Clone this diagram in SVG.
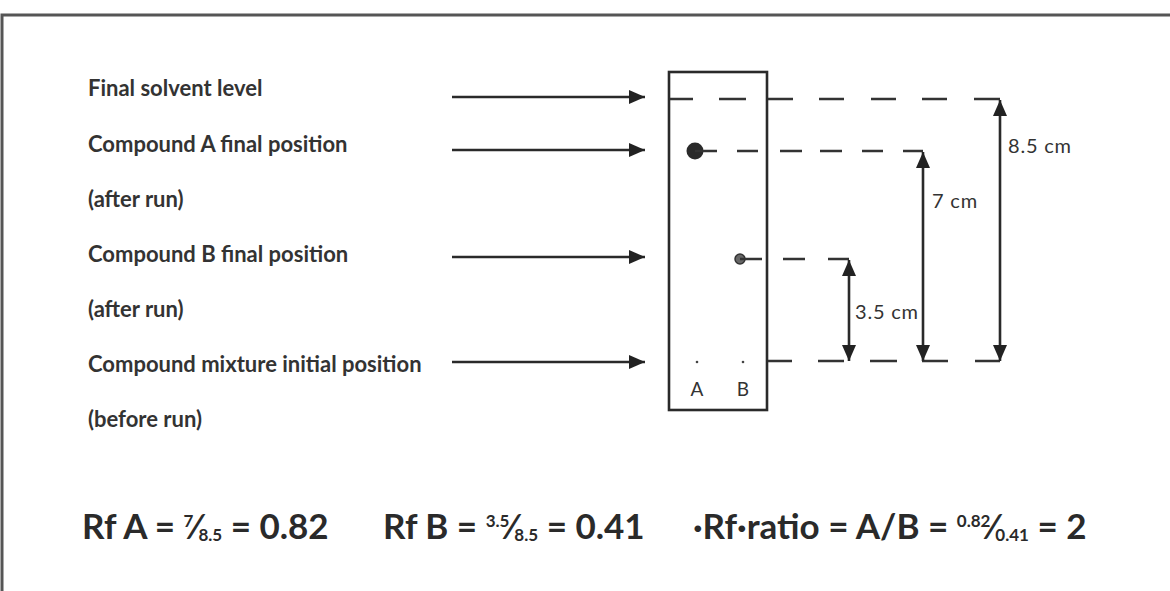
<svg xmlns="http://www.w3.org/2000/svg" width="1170" height="591" viewBox="0 0 1170 591">
  <style>
    .label { font-family: Lato, "Liberation Sans", sans-serif; font-weight: 700; font-size: 22px; fill: #333; letter-spacing: 0px; }
    .dim { font-family: Lato, "Liberation Sans", sans-serif; font-weight: 400; font-size: 20px; fill: #333; letter-spacing: 0.8px; }
    .lane { font-family: Lato, "Liberation Sans", sans-serif; font-weight: 400; font-size: 19px; fill: #333; text-anchor: middle; }
    .formula { font-family: Lato, "Liberation Sans", sans-serif; font-weight: 700; font-size: 35px; fill: #2a2a2a; }
    .frac { font-size: 17px; }
    .line { stroke: #2a2a2a; stroke-width: 2.6; fill: none; }
    .dash { stroke: #333; stroke-width: 2.6; fill: none; }
  </style>
  <defs>
    <marker id="head" viewBox="0 0 16 14" refX="16" refY="7" markerWidth="16" markerHeight="14" markerUnits="userSpaceOnUse" orient="auto-start-reverse">
      <path d="M0,0 L16,7 L0,14 Z" fill="#222"/>
    </marker>
  </defs>

  <rect width="1170" height="591" fill="#fff"/>
  <!-- outer frame -->
  <path d="M2,591 V15 H1170" fill="none" stroke="#555" stroke-width="3"/>

  <!-- left-hand labels -->
  <g id="label-solvent"><text class="label" x="88" y="96">Final solvent level</text></g>
  <g id="label-compound-a">
    <text class="label" x="88" y="152">Compound A final position</text>
    <text class="label" x="88" y="207">(after run)</text>
  </g>
  <g id="label-compound-b">
    <text class="label" x="88" y="262">Compound B final position</text>
    <text class="label" x="88" y="317">(after run)</text>
  </g>
  <g id="label-mixture">
    <text class="label" x="88" y="372">Compound mixture initial position</text>
    <text class="label" x="88" y="427">(before run)</text>
  </g>

  <!-- TLC plate -->
  <g id="plate">
    <rect x="669" y="72" width="98" height="338" fill="none" stroke="#2a2a2a" stroke-width="2.6"/>
    <circle cx="697" cy="362" r="1.3" fill="#444"/>
    <circle cx="743" cy="362" r="1.3" fill="#444"/>
    <text class="lane" x="697" y="396">A</text>
    <text class="lane" x="743" y="396">B</text>
  </g>
  <g id="spot-a"><circle cx="695" cy="151" r="8.5" fill="#2a2a2a"/></g>
  <g id="spot-b"><circle cx="740" cy="259" r="5" fill="#666" stroke="#333" stroke-width="1.5"/></g>

  <!-- connectors -->
  <g id="connectors">
    <!-- pointer arrows from labels -->
    <line class="line" x1="452" y1="97" x2="645" y2="97" marker-end="url(#head)"/>
    <line class="line" x1="452" y1="150" x2="645" y2="150" marker-end="url(#head)"/>
    <line class="line" x1="452" y1="257" x2="645" y2="257" marker-end="url(#head)"/>
    <line class="line" x1="452" y1="362" x2="645" y2="362" marker-end="url(#head)"/>

    <!-- solvent front -->
    <path class="dash" d="M670,99 H693 M719,99 H746 M768,99 H793 M819,99 H844 M871,99 H896 M922,99 H947 M974,99 H1000"/>
    <!-- compound A level -->
    <path class="dash" d="M695,151 H717 M737,151 H758 M780,151 H802 M820,151 H842 M862,151 H883 M903,151 H923"/>
    <!-- compound B level -->
    <path class="dash" d="M740,259 H762 M783,259 H805 M828,259 H849"/>
    <!-- baseline -->
    <path class="dash" d="M768,361 H792 M818,361 H844 M870,361 H897 M922,361 H948 M975,361 H1000"/>

    <!-- distance arrows -->
    <line class="line" x1="849" y1="260" x2="849" y2="361" marker-start="url(#head)" marker-end="url(#head)"/>
    <line class="line" x1="923" y1="152" x2="923" y2="361" marker-start="url(#head)" marker-end="url(#head)"/>
    <line class="line" x1="1000" y1="100" x2="1000" y2="361" marker-start="url(#head)" marker-end="url(#head)"/>
  </g>

  <!-- distance labels -->
  <g id="dim-labels">
    <text class="dim" x="1008" y="153">8.5 cm</text>
    <text class="dim" x="932" y="208">7 cm</text>
    <text class="dim" x="855" y="319">3.5 cm</text>
  </g>

  <!-- Rf calculations -->
  <g id="formulas">
    <text class="formula" x="82" y="539">Rf A = <tspan class="frac" dy="-12">7</tspan><tspan dy="12">⁄</tspan><tspan class="frac" dy="2">8.5</tspan><tspan dy="-2"> = 0.82</tspan></text>
    <text class="formula" x="383" y="539">Rf B = <tspan class="frac" dy="-12">3.5</tspan><tspan dy="12">⁄</tspan><tspan class="frac" dy="2">8.5</tspan><tspan dy="-2"> = 0.41</tspan></text>
    <text class="formula" x="693" y="539">·Rf·ratio = A/B = <tspan class="frac" dy="-12">0.82</tspan><tspan dy="12">⁄</tspan><tspan class="frac" dy="2">0.41</tspan><tspan dy="-2"> = 2</tspan></text>
  </g>
</svg>
